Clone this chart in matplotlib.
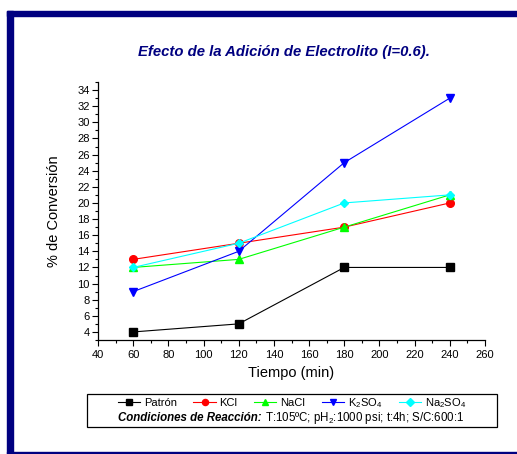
import matplotlib
matplotlib.use("Agg")
import matplotlib.pyplot as plt
from matplotlib.patches import Rectangle
from matplotlib.ticker import MultipleLocator

plt.rcParams['font.family'] = ['Liberation Sans', 'DejaVu Sans']
plt.rcParams['mathtext.fontset'] = 'custom'
plt.rcParams['mathtext.rm'] = 'Liberation Sans'
plt.rcParams['mathtext.it'] = 'Liberation Sans:italic'
plt.rcParams['mathtext.bf'] = 'Liberation Sans:bold'

# data
tiempo = [60, 120, 180, 240]
patron = [4, 5, 12, 12]
kcl = [13, 15, 17, 20]
nacl = [12, 13, 17, 21]
k2so4 = [9, 14, 25, 33]
na2so4 = [12, 15, 20, 21]

series = [
    ('Patrón', patron, 'black', 's'),
    ('KCl', kcl, 'red', 'o'),
    ('NaCl', nacl, '#00ff00', '^'),
    ('K$_2$SO$_4$', k2so4, 'blue', 'v'),
    ('Na$_2$SO$_4$', na2so4, 'cyan', 'D'),
]

W, H = 517, 454
fig = plt.figure(figsize=(W / 100, H / 100), dpi=100)
ax = fig.add_axes([98 / W, 1 - 340 / H, (485 - 98) / W, (340 - 82) / H])

handles = []
for name, vals, col, mk in series:
    ms = 4.5 if mk == 'D' else 5.5
    h, = ax.plot(tiempo, vals, color=col, marker=mk, markersize=ms, lw=0.8,
                 label=name)
    handles.append(h)

ax.set_xlim(40, 260)
ax.set_ylim(3, 35)
ax.xaxis.set_major_locator(MultipleLocator(20))
ax.xaxis.set_minor_locator(MultipleLocator(10))
ax.yaxis.set_minor_locator(MultipleLocator(1))
ax.set_yticks(range(4, 35, 2))
ax.tick_params(which='major', direction='out', length=4, width=0.8, labelsize=8, pad=2)
ax.tick_params(axis='x', which='major', pad=3.5)
ax.tick_params(which='minor', direction='out', length=2.5, width=0.8)
ax.spines['top'].set_visible(False)
ax.spines['right'].set_visible(False)
ax.spines['left'].set_linewidth(0.9)
ax.spines['bottom'].set_linewidth(0.9)

ax.set_xlabel('Tiempo (min)', fontsize=10.5, labelpad=4)
ax.set_ylabel('% de Conversión', fontsize=10.5, labelpad=12)

fig.text(284 / W, 1 - 52 / H, 'Efecto de la Adición de Electrolito (I=0.6).',
         ha='center', va='center', fontsize=10.7, fontweight='bold',
         fontstyle='italic', color='#000080')

# navy frame
navy = '#000080'
fig.patches.append(Rectangle((7 / W, 1 - 16 / H), 1, 5 / H, transform=fig.transFigure,
                             color=navy, zorder=5))
fig.patches.append(Rectangle((7 / W, 0), 6 / W, 1 - 11 / H, transform=fig.transFigure,
                             color=navy, zorder=5))
fig.patches.append(Rectangle((7 / W, 1 - 453 / H), 1, 1.2 / H, transform=fig.transFigure,
                             color=navy, zorder=5))

# legend box
fig.patches.append(Rectangle((87 / W, 1 - 427 / H), (497 - 87) / W, (427 - 394) / H,
                             transform=fig.transFigure, fill=False, ec='black', lw=0.9))
fig.legend(handles=handles, loc='center', bbox_to_anchor=(292 / W, 1 - 403 / H),
           ncol=5, frameon=False, fontsize=8, handlelength=2.0, handletextpad=0.35,
           columnspacing=1.5, numpoints=1, borderpad=0, markerscale=0.8)

t1 = fig.text(118 / W, 1 - 418 / H, 'Condiciones de Reacción:', ha='left', va='center',
              fontsize=8.3, fontweight='bold', fontstyle='italic')
fig.canvas.draw()
bb = t1.get_window_extent()
fig.text(bb.x1 / W + 3 / W, 1 - 418 / H, 'T:105ºC; pH$_2$:1000 psi; t:4h; S/C:600:1',
         ha='left', va='center', fontsize=8.3)

fig.savefig('out.png', dpi=100)
